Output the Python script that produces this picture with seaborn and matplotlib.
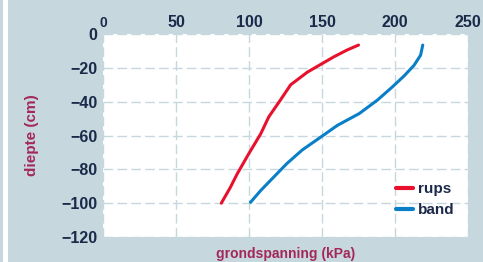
import numpy as np
import pandas as pd
import matplotlib
matplotlib.use("Agg")
import matplotlib.pyplot as plt
import seaborn as sns
from matplotlib.patches import Rectangle

# data
rups_kpa = [175, 167, 158, 149, 140, 128.5, 121.5, 113.5, 108, 100, 92, 87, 81]
rups_depth = [-6.5, -9.5, -13.5, -18, -22.5, -30, -39, -49, -59, -70.5, -82.5, -91, -100]
band_kpa = [219, 217.5, 213, 206.5, 198.5, 188, 175.5, 160.5, 149, 136.5, 126, 117, 108, 101]
band_depth = [-6.5, -12.5, -18.5, -24.5, -31, -39, -47, -54, -61, -68.5, -76.5, -84.5, -92.5, -99.5]
x_ticks = [0, 50, 100, 150, 200, 250]
y_ticks = [0, -20, -40, -60, -80, -100, -120]

df = pd.concat([
    pd.DataFrame({"kpa": rups_kpa, "diepte": rups_depth, "serie": "rups"}),
    pd.DataFrame({"kpa": band_kpa, "diepte": band_depth, "serie": "band"}),
], ignore_index=True)

sns.set_theme(style="white")
plt.rcParams['font.family'] = ['Liberation Sans', 'DejaVu Sans']

bg = "#c7d7de"
tick_col = "#1c2a4a"
label_col = "#a3285a"

fig = plt.figure(figsize=(4.83, 2.62), dpi=100, facecolor=bg)
# white strip on the left edge
fig.patches.append(Rectangle((0.006, 0), 0.010, 1, transform=fig.transFigure,
                             facecolor="white", edgecolor="none"))
ax = fig.add_axes([0.2133, 0.0954, 0.7557, 0.7746])
ax.set_facecolor("white")

sns.lineplot(data=df, x="kpa", y="diepte", hue="serie", sort=False, estimator=None,
             palette={"rups": "#e8112d", "band": "#0a7fc8"}, linewidth=2.2, ax=ax)

ax.set_xlim(0, 250)
ax.set_ylim(-120, 0)
ax.set_xticks(x_ticks)
ax.set_yticks(y_ticks)
ax.xaxis.tick_top()
ax.tick_params(axis="x", pad=3, length=0, labelsize=11.5, colors=tick_col)
ax.tick_params(axis="y", pad=4, length=0, labelsize=11.5, colors=tick_col)
for lab in ax.get_xticklabels() + ax.get_yticklabels():
    lab.set_fontweight("bold")
xl = ax.get_xticklabels()
xl[0].set_fontsize(10)

ax.grid(True, color="#c7d7de", linestyle=(0, (7, 3)), linewidth=1.0)
for s in ax.spines.values():
    s.set_visible(False)

ax.set_xlabel("grondspanning (kPa)", color=label_col, fontsize=10, fontweight="bold", labelpad=7)
ax.xaxis.set_label_position("bottom")
ax.set_ylabel("diepte (cm)", color=label_col, fontsize=11, fontweight="bold", labelpad=16)

leg = ax.legend(loc="lower right", bbox_to_anchor=(1.0, 0.03), frameon=False, handlelength=1.1,
                handletextpad=0.3, labelspacing=0.45, fontsize=11)
for t in leg.get_texts():
    t.set_color(tick_col)
    t.set_fontweight("bold")
for h in leg.get_lines():
    h.set_linewidth(3)

fig.savefig("out.png", dpi=100, facecolor=bg)
